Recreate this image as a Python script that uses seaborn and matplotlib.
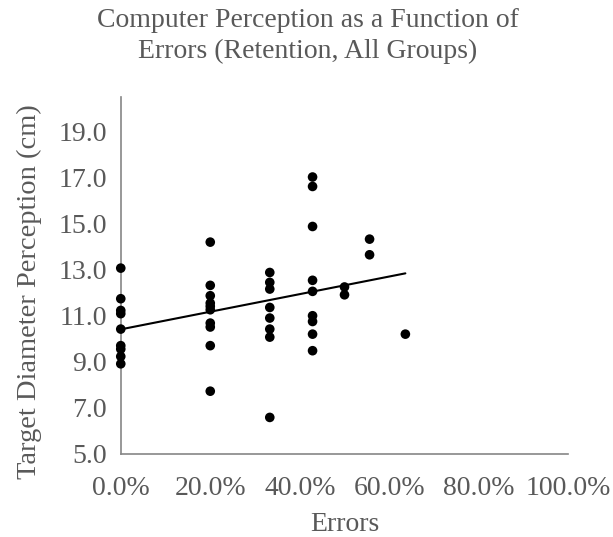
import matplotlib
matplotlib.use("Agg")
import matplotlib.pyplot as plt
import seaborn as sns
import pandas as pd
from matplotlib.ticker import FuncFormatter

errors = ([0.0] * 9 + [0.20] * 10 + [0.333] * 8 + [0.4286] * 9
          + [0.50] * 2 + [0.556] * 2 + [0.636])
perception = [13.07, 11.74, 11.23, 11.09, 10.42, 9.70, 9.55, 9.23, 8.91,
              14.20, 12.32, 11.87, 11.55, 11.41, 11.26, 10.68, 10.51, 9.70, 7.72,
              12.88, 12.45, 12.16, 11.36, 10.90, 10.42, 10.07, 6.58,
              17.03, 16.62, 14.88, 12.54, 12.06, 11.00, 10.75, 10.20, 9.48,
              12.25, 11.91,
              14.33, 13.65,
              10.20]
x_ticks = [0.0, 0.2, 0.4, 0.6, 0.8, 1.0]
y_ticks = [5.0, 7.0, 9.0, 11.0, 13.0, 15.0, 17.0, 19.0]

df = pd.DataFrame({"Errors": errors, "Perception": perception})

sns.set_theme(style="white")
plt.rcParams["font.family"] = ["Liberation Serif", "DejaVu Serif"]
gray = "#595959"

fig = plt.figure(figsize=(6.13, 5.37), dpi=100)
ax = fig.add_axes([0.197, 0.155, 0.730, 0.664])

sns.regplot(data=df, x="Errors", y="Perception", ax=ax, ci=None,
            scatter_kws=dict(s=48, color="black", edgecolors="none", alpha=1,
                             zorder=3, clip_on=False),
            line_kws=dict(color="black", lw=1.5), truncate=True)

ax.set_xlim(0, 1.0)
ax.set_ylim(5.0, 20.5)
ax.set_xticks(x_ticks)
ax.set_yticks(y_ticks)
ax.xaxis.set_major_formatter(FuncFormatter(lambda v, p: f"{v*100:.1f}%"))
ax.yaxis.set_major_formatter(FuncFormatter(lambda v, p: f"{v:.1f}"))
ax.tick_params(axis="both", length=0, labelsize=20, labelcolor=gray)
ax.tick_params(axis="x", pad=16)
ax.tick_params(axis="y", pad=10)

for s in ["top", "right"]:
    ax.spines[s].set_visible(False)
for s in ["left", "bottom"]:
    ax.spines[s].set_color("#868686")
    ax.spines[s].set_linewidth(1.2)

ax.set_xlabel("Errors", fontsize=20, color=gray, labelpad=8)
ax.set_ylabel("Target Diameter Perception (cm)", fontsize=20.5, color=gray)
ax.yaxis.set_label_coords(-0.177, 0.455)
fig.suptitle("Computer Perception as a Function of\nErrors (Retention, All Groups)",
             fontsize=20, color=gray, y=0.985, x=0.502, linespacing=1.3)

fig.savefig("out.png", dpi=100)
